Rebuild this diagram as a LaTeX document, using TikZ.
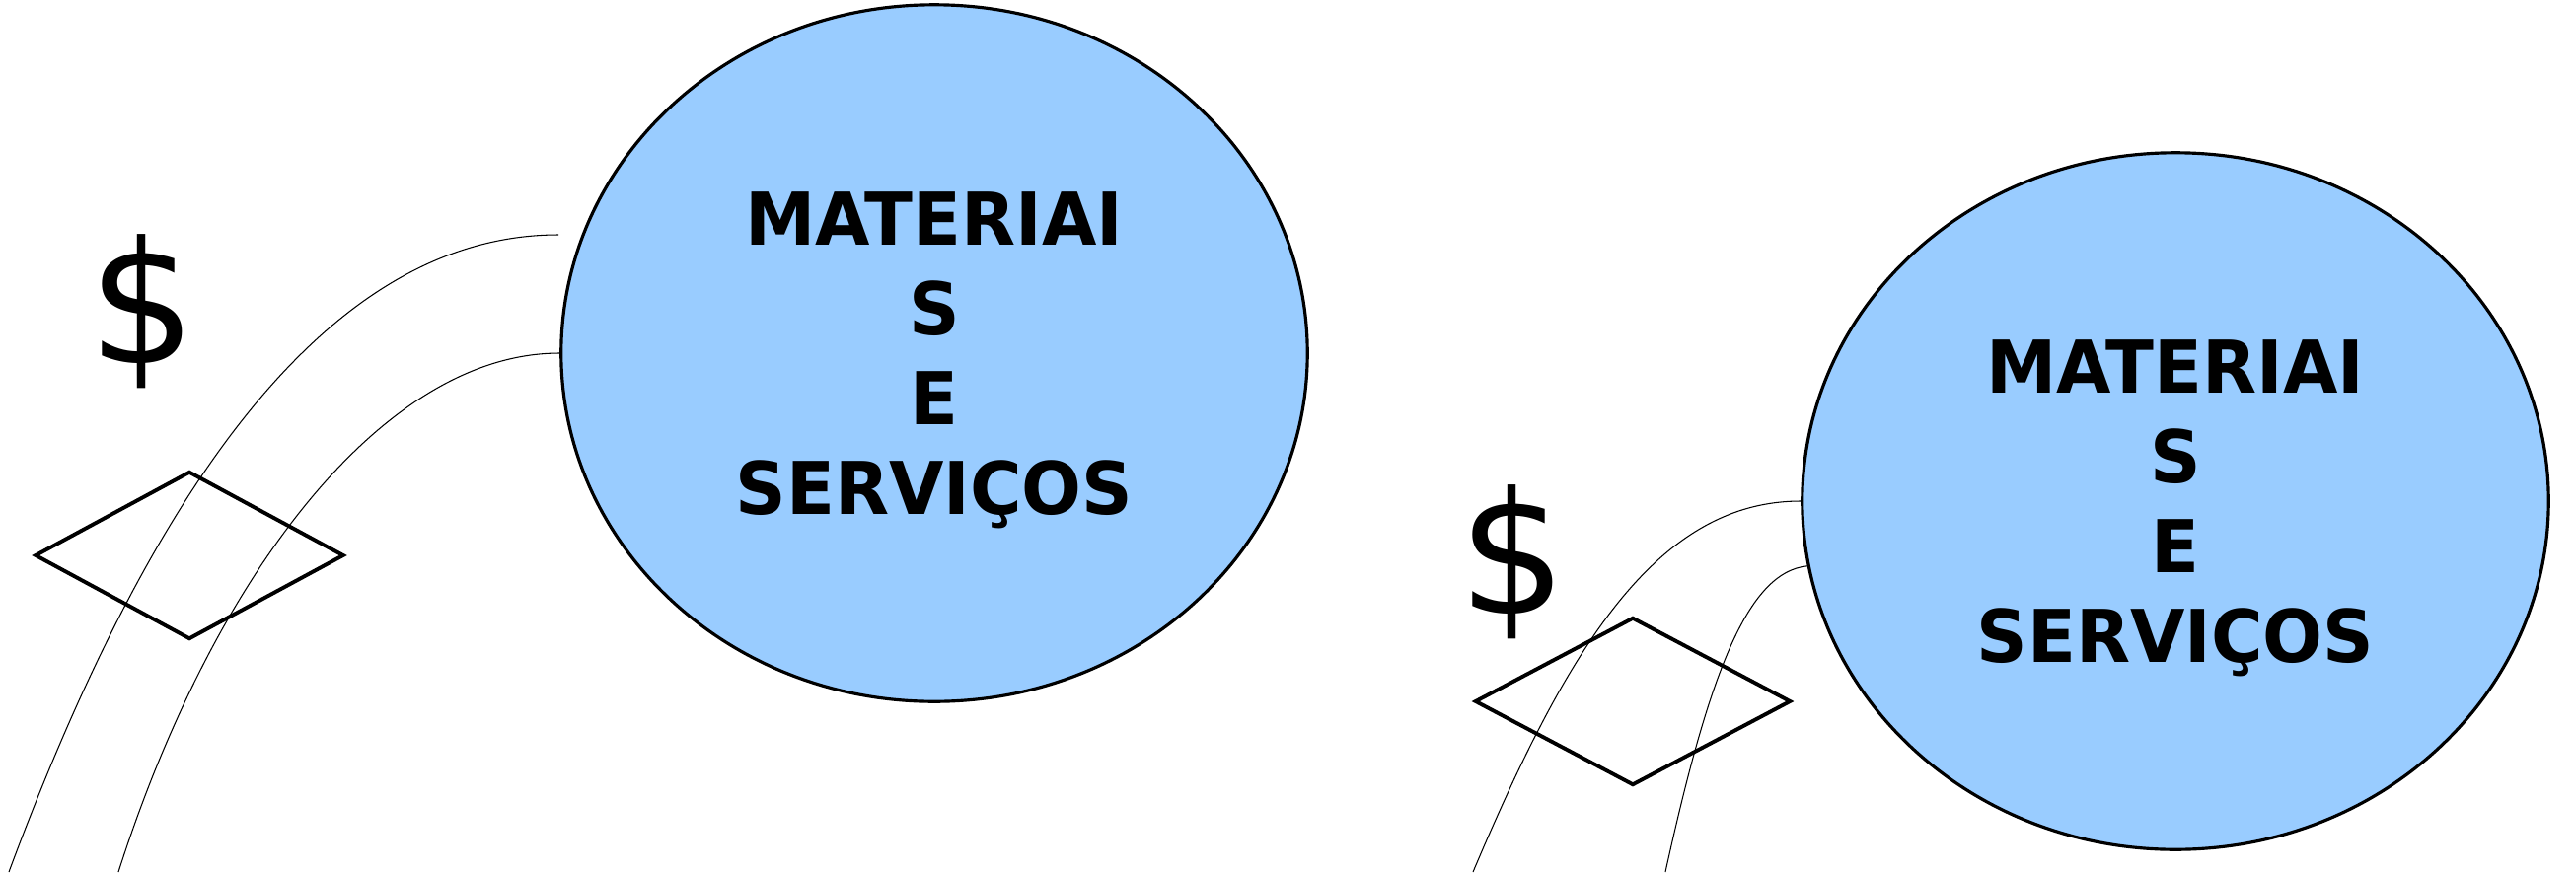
\documentclass[tikz,border=0pt]{standalone}
\usepackage{fontspec}
\setmainfont{DejaVu Sans}
\newfontfamily\blobfont[FakeStretch=0.97]{DejaVu Sans}
\usepackage{xcolor}
\usepackage{tikz}
\usetikzlibrary{shapes.geometric}
\definecolor{blobblue}{HTML}{99CCFF}

\begin{document}
\begin{tikzpicture}[x=0.01cm, y=-0.01cm,
		blob/.style={draw, ellipse, line width=0.9pt, fill=blobblue, inner sep=0pt, minimum width=7.56cm, minimum height=7.06cm, align=center, text depth=0pt, font=\blobfont\bfseries\fontsize{21}{25.9}\selectfont},
		money/.style={inner sep=0pt, font=\fontsize{49}{52}\selectfont},
		rhomb/.style={draw, diamond, line width=1.1pt, inner sep=0pt, minimum height=1.7cm},
		wire/.style={line width=0.3pt}]
	\useasboundingbox (0,0) rectangle (2611,884);

	% Left group
	\node[blob] (mat1) at (947,358) {MATERIAI\\S\\E\\SERVIÇOS};
	\node[money] (cash1) at (144,316) {\$};
	\node[rhomb, minimum width=3.13cm] (gate1) at (192,563) {};
	\coordinate (top1) at (566,238);
	\coordinate (foot1a) at (9,884);
	\coordinate (foot1b) at (120,884);
	\draw[wire] (top1) .. controls (316,238) and (139,534) .. (foot1a);
	\draw[wire] (mat1.west) .. controls (388,358) and (216,584) .. (foot1b);

	% Right group
	\node[blob] (mat2) at (2205,508) {MATERIAI\\S\\E\\SERVIÇOS};
	\node[money] (cash2) at (1533,570) {\$};
	\node[rhomb, minimum width=3.2cm] (gate2) at (1655,711) {};
	\coordinate (foot2a) at (1493,884);
	\coordinate (foot2b) at (1688,884);
	\draw[wire] (mat2.west) .. controls (1676,508) and (1586,664) .. (foot2a);
	\draw[wire] (mat2.190) .. controls (1771,580) and (1732,684) .. (foot2b);
\end{tikzpicture}
\end{document}
